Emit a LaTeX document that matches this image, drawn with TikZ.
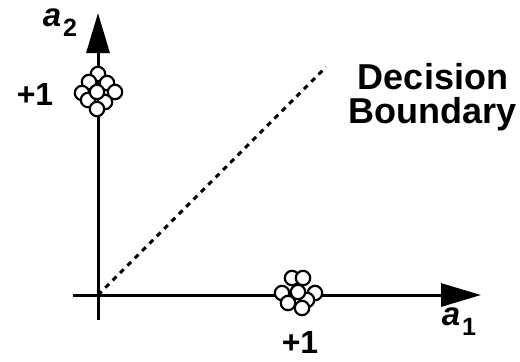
\documentclass[tikz,border=0pt]{standalone}
\usepackage{fontspec}
\setmainfont{Liberation Sans}
\usetikzlibrary{arrows.meta}
\tikzset{
    axis/.style={line width=1.5pt, -{Triangle[length=20pt, width=11.5pt]}},
    boundary/.style={line width=1.5pt, dash pattern=on 2.6pt off 2.6pt},
    sample/.style={draw, line width=1.1pt, fill=white},
    ticklabel/.style={font=\fontsize{16}{16}\selectfont\bfseries, inner sep=0pt},
    axislabel/.style={inner sep=0pt},
    note/.style={font=\fontsize{18}{17}\selectfont\bfseries, align=center, inner sep=0pt},
}

\begin{document}
\begin{tikzpicture}[x=0.5pt, y=-0.5pt]
    \useasboundingbox (0,0) rectangle (520,361);
    % axes
    \coordinate (origin) at (98,295);
    \coordinate (xstart) at (73,295);
    \coordinate (xend) at (481,295);
    \coordinate (ystart) at (98,320);
    \coordinate (yend) at (98,13);
    \coordinate (bend) at (326,67);
    \draw[axis] (xstart) -- (xend);
    \draw[axis] (ystart) -- (yend);
    \draw[boundary] (origin) -- (bend);
    % class clusters
    \foreach \cx/\cy in {98/74, 89/82, 107/83, 82/93, 115/92, 88/100, 105/102, 97/109, 97/92}
        \draw[sample] (\cx,\cy) circle (3.6pt);
    \foreach \cx/\cy in {292/278, 303/278, 282/293, 315/293, 288/303, 307/300, 302/308, 298/292}
        \draw[sample] (\cx,\cy) circle (3.6pt);
    % labels
    \node[ticklabel] (yone) at (35,94) {+1};
    \node[ticklabel] (xone) at (300,342) {+1};
    \node[axislabel] (ylabel) at (60,23) {{\fontsize{16.5}{16}\selectfont\bfseries\itshape a}\kern1pt\raisebox{-5pt}{\fontsize{12.5}{12}\selectfont\bfseries 2}};
    \node[axislabel] (xlabel) at (459,322) {{\fontsize{16.5}{16}\selectfont\bfseries\itshape a}\kern1pt\raisebox{-5pt}{\fontsize{12.5}{12}\selectfont\bfseries 1}};
    \node[note] (decision) at (433,97) {Decision\\Boundary};
\end{tikzpicture}
\end{document}
